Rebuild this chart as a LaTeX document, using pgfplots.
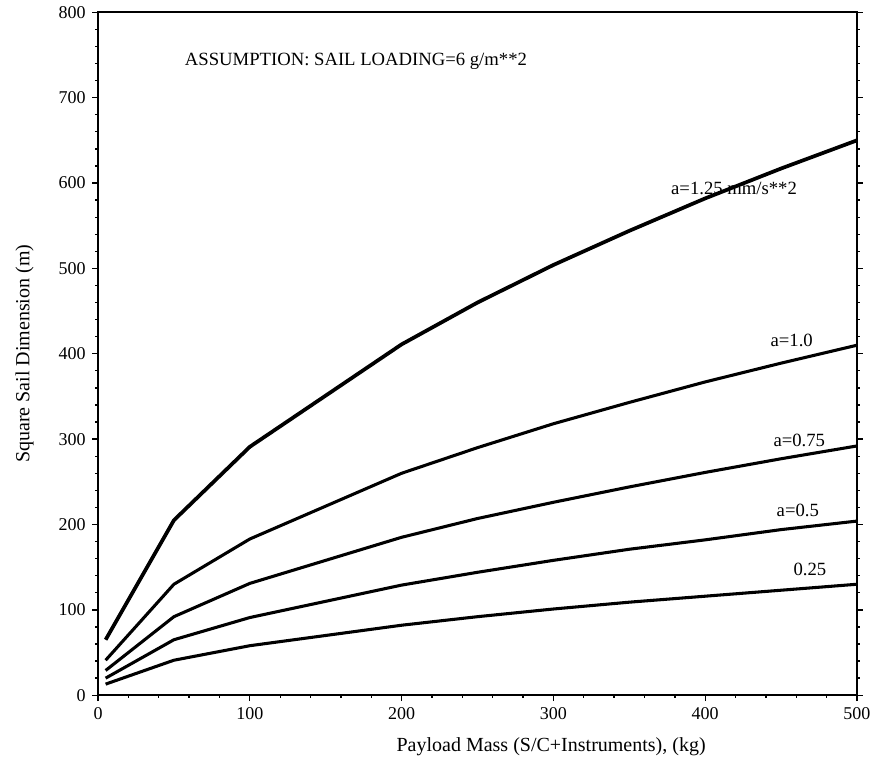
\documentclass[border=0pt]{standalone}
\usepackage{fontspec}
\setmainfont{Liberation Serif}
\usepackage{pgfplots}
\pgfplotsset{compat=1.18}

\begin{document}
\fontsize{14}{16}\selectfont
\begin{tikzpicture}[trim left=-73.5pt, trim right=581.75pt,
    curve/.style={black, mark=none, line width=2.3pt, line join=round}]
\begin{axis}[
    scale only axis,
    width=569pt, height=512pt,
    xmin=0, xmax=500, ymin=0, ymax=800,
    xtick={0,100,...,500}, ytick={0,100,...,800},
    minor tick num=4,
    tick align=outside,
    xtick pos=bottom, ytick pos=both, yticklabel pos=left,
    major tick length=4.5pt, minor tick length=2pt,
    axis line style={line width=1.2pt},
    every tick/.style={black, line width=1pt},
    tick label style={font=\fontsize{13.5}{15}\selectfont},
    /pgf/number format/assume math mode=true,
    xlabel={Payload Mass (S/C+Instruments), (kg)},
    ylabel={Square Sail Dimension (m)},
    xlabel style={at={(axis description cs:0.597,-0.075)}, anchor=center, font=\fontsize{15}{17}\selectfont},
    ylabel style={at={(axis description cs:-0.0967,0.5)}, anchor=center, font=\fontsize{15}{17}\selectfont},
]
% a = 1.25 mm/s^2
\addplot[curve, line width=2.8pt] coordinates {(5,65) (50,205) (100,291) (200,411) (250,460) (300,504) (350,544) (400,582) (450,617) (500,650)};
% a = 1.0
\addplot[curve] coordinates {(5,41) (50,130) (100,183) (200,260) (250,290) (300,318) (350,343) (400,367) (450,389) (500,410)};
% a = 0.75
\addplot[curve] coordinates {(5,29) (50,92) (100,131) (200,185) (250,207) (300,226) (350,244) (400,261) (450,277) (500,292)};
% a = 0.5
\addplot[curve] coordinates {(5,20) (50,65) (100,91) (200,129) (250,144) (300,158) (350,171) (400,182) (450,194) (500,204)};
% a = 0.25
\addplot[curve] coordinates {(5,13) (50,41) (100,58) (200,82) (250,92) (300,101) (350,109) (400,116) (450,123) (500,130)};

\node[anchor=west] at (axis cs:53,743) {ASSUMPTION: SAIL LOADING=6 g/m**2};
\node at (axis cs:419,594) {a=1.25 mm/s**2};
\node at (axis cs:457,416) {a=1.0};
\node at (axis cs:462,299) {a=0.75};
\node at (axis cs:461,217) {a=0.5};
\node at (axis cs:469,147) {0.25};
\end{axis}
\end{tikzpicture}
\end{document}
